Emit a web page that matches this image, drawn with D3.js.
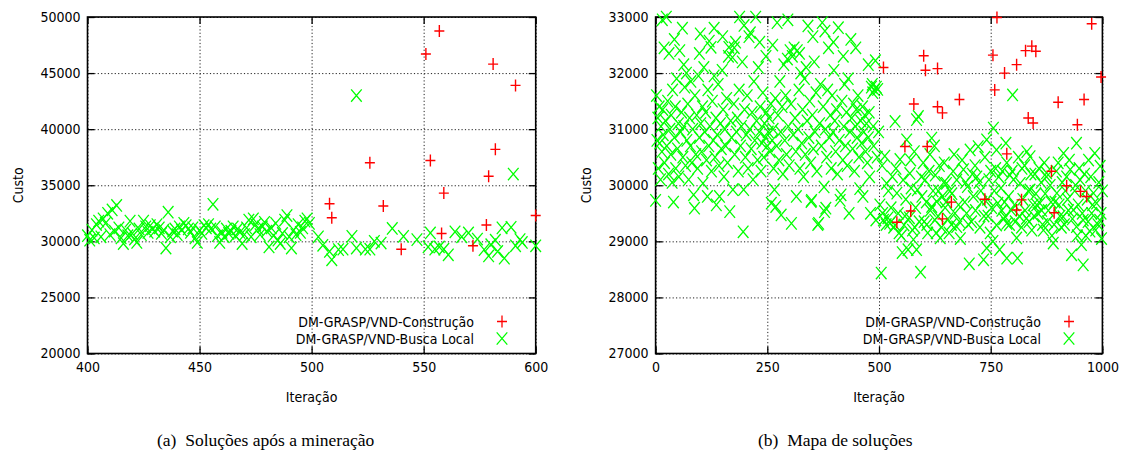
<!DOCTYPE html>
<html>
<head>
<meta charset="utf-8">
<script src="https://cdn.jsdelivr.net/npm/d3@7"></script>
<style>
  body { margin: 0; background: #fff; }
  svg { display: block; }
  .tick text { font-family: "DejaVu Sans Condensed", "DejaVu Sans", sans-serif; font-stretch: condensed; font-size: 14px; fill: #000; }
  .lbl { font-family: "DejaVu Sans Condensed", "DejaVu Sans", sans-serif; font-stretch: condensed; font-size: 14px; fill: #000; }
  .grid line { stroke: #222; stroke-dasharray: 1.2,2.2; }
  .grid path, .inner path { display: none; }
  .inner line { stroke: #000; stroke-width: 1.3; }
  .caption { font-family: "Liberation Serif", "Times New Roman", serif; font-size: 17.5px; white-space: pre; fill: #000; }
</style>
</head>
<body>
<div id="chart"></div>
<script>
// Series names / captions
var seriesNames = ["DM-GRASP/VND-Construção", "DM-GRASP/VND-Busca Local"];
var captions = ["(a)  Soluções após a mineração", "(b)  Mapa de soluções"];

// Tick values
var leftXTicks = [400, 450, 500, 550, 600];
var leftYTicks = [20000, 25000, 30000, 35000, 40000, 45000, 50000];
var rightXTicks = [0, 250, 500, 750, 1000];
var rightYTicks = [27000, 28000, 29000, 30000, 31000, 32000, 33000];

// (a) construction solutions [iteration, cost]
var leftBuild = [
  [508,33350],[509,32100],[526,37000],[532,33150],[540,29300],[551,46700],[553,37200],[557,48750],
  [558,30700],[559,34300],[572,29600],[578,31450],[579,35800],[581,45800],[582,38200],[591,43900],[600,32300]
];

// (a) local search solutions [iteration, cost]
var leftLocal = [
  [400,30500],[401,30100],[402,31000],[403,30300],[404,31500],[405,31800],[406,30400],[407,32000],[408,31600],[409,32500],
  [410,30600],[411,32800],[412,30900],[413,33200],[414,31200],[415,30300],[416,29800],[417,31000],[418,30500],[419,31800],
  [420,30700],[421,30200],[422,29900],[423,31100],[424,30600],[425,31800],[426,31300],[427,30800],[428,31400],[429,31100],
  [430,30900],[431,31500],[432,31200],[433,30700],[434,31000],[435,29400],[436,32600],[437,30400],[438,30900],[439,31100],
  [440,30600],[441,31300],[442,31000],[443,31600],[444,31400],[445,31100],[446,30800],[447,31200],[448,30300],[449,29900],
  [450,31000],[451,30700],[452,31400],[453,31200],[454,31500],[455,31100],[456,33300],[457,31300],[458,30500],[459,29900],
  [460,30800],[461,30400],[462,31100],[463,30700],[464,30900],[465,31300],[466,30500],[467,31100],[468,30800],[469,29800],
  [470,30600],[471,31200],[472,31900],[473,30400],[474,32000],[475,31500],[476,31100],[477,30600],[478,31300],[479,31700],
  [480,30900],[481,29500],[482,31200],[483,30500],[484,31600],[485,30100],[486,29800],[487,30700],[488,31900],[489,32300],
  [490,30400],[491,29400],[492,31000],[493,30600],[494,31500],[495,30800],[496,31200],[497,31800],[498,32000],[499,31600],
  [503,30400],[505,29650],[508,29100],[509,28350],[512,29260],[514,29300],[518,30450],[520,43000],[520,29400],[524,29300],
  [526,29300],[528,30000],[531,29850],[536,31150],[541,30450],[547,30150],[552,29500],[553,30750],[555,29300],[557,29500],
  [559,29300],[561,28800],[564,30850],[567,30400],[570,30750],[574,30200],[577,29260],[579,28700],[580,29700],[582,30100],
  [583,29100],[585,31200],[586,28500],[589,31250],[590,36000],[591,29600],[593,30150],[594,29900],[600,29600]
];

// (b) construction solutions [iteration, cost]
var rightBuild = [
  [510,32100],[540,29340],[558,30690],[571,29540],[578,31450],[600,32310],[604,32050],[608,30690],[631,32080],[631,31400],
  [642,31290],[642,29400],[662,29700],[680,31530],[737,29750],[755,32320],[759,31700],[764,32990],[781,32000],[786,30560],
  [808,32150],[808,29560],[819,29740],[828,32400],[834,31200],[842,32480],[845,31110],[851,32390],[886,30250],[892,29510],
  [901,31480],[920,29990],[944,31080],[951,29890],[959,31530],[965,29800],[976,32880],[997,31930]
];

// (b) local search solutions [iteration, cost]
var rightLocal = [
  [0,29730],[2,31600],[3,30800],[5,31200],[6,30300],[8,31400],[9,30750],[11,30100],[12,31050],[14,30600],
  [16,31350],[17,30900],[19,32450],[20,30400],[22,31150],[24,33000],[25,30700],[27,31500],[29,30200],[30,32350],
  [32,31000],[34,30550],[35,31250],[37,30050],[38,31700],[40,29700],[42,30850],[44,31400],[45,30300],[47,31900],
  [49,30650],[51,31100],[52,30150],[54,32400],[56,30950],[58,31300],[60,32800],[61,30500],[63,31050],[65,31750],
  [67,30350],[69,32000],[70,30800],[72,31450],[74,30100],[76,31200],[78,30700],[79,31850],[81,30400],[83,31000],
  [85,29830],[87,29590],[88,31600],[90,30550],[92,31250],[94,30300],[96,31950],[98,30850],[100,32700],[101,31100],
  [103,30600],[105,31400],[106,30035],[108,32100],[110,30950],[112,31300],[114,30450],[116,29800],[117,31700],[119,30700],
  [120,32570],[122,31050],[124,32460],[125,30250],[127,31500],[129,30800],[131,31950],[133,30500],[135,31200],[136,29650],
  [138,30900],[140,31800],[142,30350],[143,29800],[145,31100],[147,30650],[149,32050],[151,31350],[153,30150],[155,31000],
  [157,30700],[159,31550],[161,30400],[163,32300],[164,32460],[166,29530],[168,31150],[170,30850],[172,32280],[173,29920],
  [175,31450],[177,30550],[179,32550],[181,30950],[183,31200],[185,30250],[187,31700],[188,33000],[190,30700],[192,31050],
  [194,32200],[196,29170],[197,29920],[199,31350],[201,30500],[203,30900],[205,31600],[207,30300],[209,32650],[211,31000],
  [212,32720],[214,30650],[216,31300],[218,30100],[220,31850],[222,30800],[224,33000],[226,31150],[228,30450],[230,32100],
  [232,30950],[234,31400],[236,30250],[238,30750],[240,31650],[242,30500],[244,31100],[246,30850],[248,31300],[250,30700],
  [252,30950],[254,31200],[256,30600],[258,31450],[259,29680],[261,30800],[263,31000],[264,30300],[266,29920],[268,31550],
  [269,29620],[271,30700],[272,32900],[274,31250],[276,30450],[278,31850],[280,30950],[281,29470],[283,31400],[285,30200],
  [287,32150],[289,30800],[291,31600],[293,30550],[295,32250],[297,31050],[299,30350],[301,32400],[303,31450],[304,29320],
  [306,32300],[308,30900],[310,32450],[312,31200],[314,30600],[315,29800],[317,32400],[319,31000],[321,31700],[323,30300],
  [325,32000],[327,30750],[329,31350],[331,30150],[333,31900],[335,30550],[337,32100],[339,31150],[341,32840],[343,30850],
  [345,31500],[347,30400],[348,29710],[349,29730],[351,31250],[353,30650],[355,32200],[357,30950],[359,31650],[361,30250],
  [363,29300],[365,29320],[367,31100],[369,31800],[371,30700],[373,32900],[375,31400],[377,29970],[378,29530],[380,31000],
  [381,29590],[383,30500],[385,31700],[387,32450],[389,30850],[391,31250],[393,30300],[395,31600],[397,30950],[399,32050],
  [401,31150],[403,30600],[405,31350],[407,30200],[409,32810],[411,30800],[413,29730],[415,29830],[417,31500],[419,30450],
  [421,31050],[423,31800],[425,30700],[427,31300],[429,30350],[431,31900],[433,29500],[435,30950],[437,32600],[439,31200],
  [441,30650],[443,31450],[445,30250],[447,31050],[449,31350],[451,30850],[453,31600],[455,30500],[457,29940],[459,31150],
  [461,30750],[463,31400],[464,29800],[466,30950],[468,31250],[470,30600],[472,31100],[474,30400],[476,30850],[478,31300],
  [479,30150],[481,29500],[483,31750],[485,31800],[487,31050],[488,30700],[490,31700],[492,32220],[493,29380],[494,31750],
  [496,30500],[497,31710],[499,30950],
  [15,32950],[42,32600],[63,32150],[98,32350],[131,32800],[150,32650],[176,32450],[198,32850],[233,32550],[247,32300],
  [262,32500],[296,32950],[322,32350],[352,32650],[379,32750],[398,32550],[420,32300],[448,32450],[476,32150],[486,31650],
  [502,29650],[505,28435],[507,30350],[510,29380],[513,30520],[516,29300],[517,30035],[520,29420],[524,29320],[527,29600],
  [530,30150],[533,29250],[536,31137],[536,29290],[540,29860],[543,29500],[547,30460],[550,29100],[552,28800],[554,30095],
  [556,29290],[560,29750],[562,30810],[565,28850],[568,29420],[569,30210],[572,29950],[575,29200],[577,29030],[579,30600],
  [582,29600],[584,28850],[584,31170],[586,29917],[588,31226],[590,29350],[593,28450],[596,29800],[599,30400],[601,29350],
  [603,30095],[606,29700],[609,29150],[612,30250],[615,29550],[618,29620],[618,30840],[621,29900],[624,30700],[625,29380],
  [626,30180],[629,29710],[632,29450],[635,30350],[637,29060],[640,29250],[642,29800],[645,30050],[648,29600],[651,30035],
  [654,29400],[657,29150],[659,29900],[662,29300],[666,30250],[670,29500],[674,30095],[674,29260],[678,29650],[682,29050],
  [686,30450],[689,30280],[692,29700],[696,29500],[698,29975],[702,28600],[704,30630],[707,29350],[711,29800],[715,30350],
  [719,30150],[722,30690],[726,29250],[730,29700],[734,28670],[737,30500],[741,30810],[741,28880],[744,29450],[746,30100],
  [749,29150],[752,29600],[756,31020],[758,29900],[761,30300],[763,30630],[763,29290],[766,29680],[770,28850],[773,29950],
  [776,30250],[779,29400],[782,29440],[784,30750],[786,28700],[786,29320],[786,30400],[790,29800],[793,30180],[796,29550],
  [799,31610],[801,30100],[805,29350],[808,29060],[810,28700],[812,30500],[816,30035],[819,29250],[822,29750],[826,30350],
  [830,29410],[831,30600],[834,29900],[838,30510],[838,29917],[842,29200],[845,29650],[849,30200],[853,29650],[856,29500],
  [860,29680],[863,30050],[866,29300],[868,29200],[872,29850],[875,30150],[875,30220],[879,29550],[883,30000],[887,29100],
  [890,28970],[894,29700],[898,29860],[901,30400],[905,29450],[908,29250],[912,29440],[913,30570],[917,29900],[920,30150],
  [924,29550],[928,30280],[931,28760],[935,29560],[938,29900],[942,29260],[942,30750],[946,29650],[950,30095],[953,28940],
  [957,28580],[957,29380],[960,30200],[963,29100],[966,29750],[969,30450],[972,29180],[976,29500],[980,29860],[983,30570],
  [987,29680],[990,29300],[994,29380],[995,30340],[998,29050],[1000,29900],
  [508,29500],[521,29900],[538,30300],[545,29150],[558,29450],[571,30450],[580,29250],[595,30150],[607,29300],[614,30550],
  [628,29150],[633,29900],[646,30400],[650,29700],[663,29850],[668,30550],[680,29350],[694,30050],[700,29300],[709,30200],
  [716,29550],[724,30050],[728,29900],[735,29450],[743,29750],[750,30250],[755,29000],[768,30150],[775,29550],[781,29700],
  [792,29300],[798,30250],[803,29650],[814,29450],[820,30300],[827,29550],[836,29350],[840,30200],[847,29450],[851,29850],
  [858,30300],[864,29550],[870,30400],[877,29350],[885,29700],[892,29300],[897,30250],[903,29650],[910,30050],[915,29300],
  [922,29750],[926,30450],[933,29400],[940,30000],[944,29100],[948,30300],[955,29500],[962,29900],[968,29350],[974,30150],
  [978,29650],[985,29200],[992,30050],[997,29500]
];

var width = 1123, height = 454;
var svg = d3.select("#chart").append("svg")
    .attr("width", width)
    .attr("height", height);

// marker shapes (gnuplot pt 1 and pt 2)
var plusPath = "M-5,0H5M0,-6V6";
var crossPath = "M-5.3,-6.2L5.3,6.2M-5.3,6.2L5.3,-6.2";

var panels = [
  {left: 87.5, right: 535.7, xDomain: [400, 600], yDomain: [20000, 50000],
   xTicks: leftXTicks, yTicks: leftYTicks, build: leftBuild, local: leftLocal,
   legendText: 474, legendMark: 502, yLabelX: 18, caption: captions[0], captionX: 157},
  {left: 655.6, right: 1102.4, xDomain: [0, 1000], yDomain: [27000, 33000],
   xTicks: rightXTicks, yTicks: rightYTicks, build: rightBuild, local: rightLocal,
   legendText: 1041, legendMark: 1069, yLabelX: 586, caption: captions[1], captionX: 758}
];

var plotTop = 17, plotBottom = 353.5;

panels.forEach(function(p) {
    var w = p.right - p.left, h = plotBottom - plotTop;

    var x = d3.scaleLinear().domain(p.xDomain).range([0, w]);
    var y = d3.scaleLinear().domain(p.yDomain).range([h, 0]);

    var g = svg.append("g")
        .attr("transform", "translate(" + p.left + "," + plotTop + ")");

    // dotted grid
    g.append("g")
        .attr("class", "grid")
        .attr("transform", "translate(0," + h + ")")
        .call(d3.axisBottom(x).tickValues(p.xTicks).tickSize(-h).tickFormat(""));
    g.append("g")
        .attr("class", "grid")
        .call(d3.axisLeft(y).tickValues(p.yTicks).tickSize(-w).tickFormat(""));

    // inward ticks with labels (left / bottom) and mirrored ticks (right / top)
    g.append("g")
        .attr("class", "inner")
        .call(d3.axisLeft(y).tickValues(p.yTicks).tickSize(-7).tickPadding(7).tickFormat(d3.format("d")));
    g.append("g")
        .attr("class", "inner")
        .attr("transform", "translate(" + w + ",0)")
        .call(d3.axisRight(y).tickValues(p.yTicks).tickSize(-7).tickFormat(""));
    g.append("g")
        .attr("class", "inner")
        .attr("transform", "translate(0," + h + ")")
        .call(d3.axisBottom(x).tickValues(p.xTicks).tickSize(-7).tickPadding(9).tickFormat(d3.format("d")));
    g.append("g")
        .attr("class", "inner")
        .call(d3.axisTop(x).tickValues(p.xTicks).tickSize(-7).tickFormat(""));

    // border
    g.append("rect")
        .attr("width", w)
        .attr("height", h)
        .attr("fill", "none")
        .attr("stroke", "#000")
        .attr("stroke-width", 1.6);

    function inside(d) {
        return d[0] >= p.xDomain[0] && d[0] <= p.xDomain[1] && d[1] >= p.yDomain[0] && d[1] <= p.yDomain[1];
    }

    // local search points (green x)
    g.append("g").selectAll("path")
        .data(p.local.filter(inside))
        .enter().append("path")
        .attr("d", crossPath)
        .attr("transform", function(d) { return "translate(" + x(d[0]) + "," + y(d[1]) + ")"; })
        .attr("stroke", "#00ff00")
        .attr("stroke-width", 1.3)
        .attr("fill", "none");

    // construction points (red +)
    g.append("g").selectAll("path")
        .data(p.build.filter(inside))
        .enter().append("path")
        .attr("d", plusPath)
        .attr("transform", function(d) { return "translate(" + x(d[0]) + "," + y(d[1]) + ")"; })
        .attr("stroke", "#ff0000")
        .attr("stroke-width", 1.4)
        .attr("fill", "none");

    // axis titles
    svg.append("text")
        .attr("class", "lbl")
        .attr("text-anchor", "middle")
        .attr("x", p.left + w / 2)
        .attr("y", 402)
        .text("Iteração");
    svg.append("text")
        .attr("class", "lbl")
        .attr("text-anchor", "middle")
        .attr("transform", "translate(" + (p.yLabelX + 5) + "," + (plotTop + h / 2) + ") rotate(-90)")
        .text("Custo");

    // legend
    var legend = svg.append("g");
    [[plusPath, "#ff0000", 321.5], [crossPath, "#00ff00", 338.5]].forEach(function(m, i) {
        legend.append("text")
            .attr("class", "lbl")
            .attr("text-anchor", "end")
            .attr("x", p.legendText)
            .attr("y", m[2] + 5)
            .text(seriesNames[i]);
        legend.append("path")
            .attr("d", m[0])
            .attr("transform", "translate(" + p.legendMark + "," + m[2] + ")")
            .attr("stroke", m[1])
            .attr("stroke-width", 1.3)
            .attr("fill", "none");
    });

    // caption
    svg.append("text")
        .attr("class", "caption")
        .attr("x", p.captionX)
        .attr("y", 446)
        .text(p.caption);
});
</script>
</body>
</html>
